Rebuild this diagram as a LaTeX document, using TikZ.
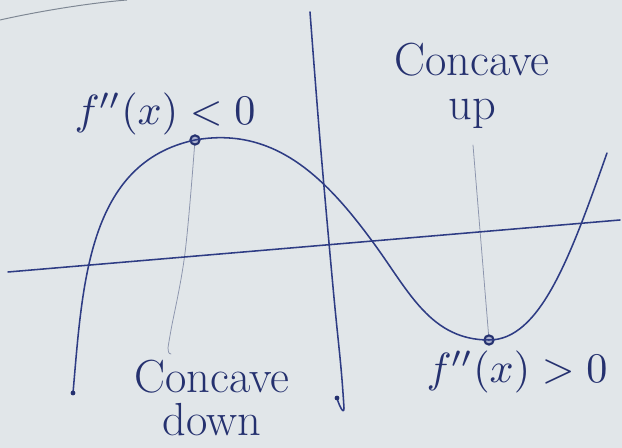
\documentclass[tikz,border=0pt]{standalone}
\usepackage{xcolor}
\usepackage{graphicx}
\usepackage{tikz}
\usepackage{amsmath}
\usetikzlibrary{positioning,calc,backgrounds}
\definecolor{Paper}{HTML}{E1E6E9}
\definecolor{Ink}{HTML}{2E3C84}
\definecolor{DarkInk}{HTML}{25316F}
\definecolor{Pencil}{HTML}{8C95AD}
\definecolor{Rule}{HTML}{7E8793}

\begin{document}
\begin{tikzpicture}[x=0.25mm,y=0.25mm,
    c/.style={draw=Ink,line width=1.1pt,line cap=round,line join=round},
    g/.style={draw=Pencil,line width=0.55pt,line cap=round},
    d/.style={circle,draw=DarkInk,line width=1.5pt,fill=Ink!40,inner sep=0pt,minimum size=2.3mm},
    t/.style={text=DarkInk,align=center,inner sep=0pt}]
    \useasboundingbox (0,0) rectangle (622,448);
    % axes
    \coordinate (xl) at (8,176); \coordinate (xr) at (620,228);
    \coordinate (yt) at (310,436); \coordinate (yb) at (344,40); \coordinate (yh) at (337,50);
    \draw[c] (xl) -- (xr);
    \draw[c] plot[smooth,tension=.6] coordinates {(yt) (320,308) (333,161) (341,80) (yb)} to[out=-90,in=-75,looseness=1.6] (yh);
    \fill[DarkInk] (yh) circle (2.4);
    % critical points
    \node[d] (max) at (195,308) {};
    \node[d] (min) at (489,108) {};
    \coordinate (lo) at (168,100); \coordinate (hi) at (473,303);
    \begin{scope}[on background layer]
    \fill[Paper] (0,0) rectangle (622,448);
    \draw[Rule,line width=0.7pt] (0,428) .. controls (40,437) and (90,445) .. (127,448);
    \draw[g] plot[smooth,tension=.6] coordinates {(max.center) (185,195) (171,118) (lo)} to[out=-90,in=180] (171,94);
    \draw[g] (hi) -- (min.center);
    \end{scope}
    % the graph
    \coordinate (s) at (73,55); \coordinate (infl) at (375,203); \coordinate (e) at (607,295);
    \draw[c] (s) to[out=85,in=192] (max.center) to[out=10,in=126] (infl)
      to[out=-54,in=180] (min.center) .. controls (540,108) and (570,190) .. (e);
    \fill[DarkInk] (s) circle (2.4);
    % labels
    \node[t] (neg) at (165,334) {\scalebox{3}{$f''(x)<0$}};
    \node[t,font=\fontsize{33}{31}\selectfont] (up) at (472,362) {Concave\\up};
    \node[t,font=\fontsize{33}{31}\selectfont] (down) at (212,50) {Concave\\down};
    \node[t] (pos) at (517,76) {\scalebox{3}{$f''(x)>0$}};
\end{tikzpicture}
\end{document}
